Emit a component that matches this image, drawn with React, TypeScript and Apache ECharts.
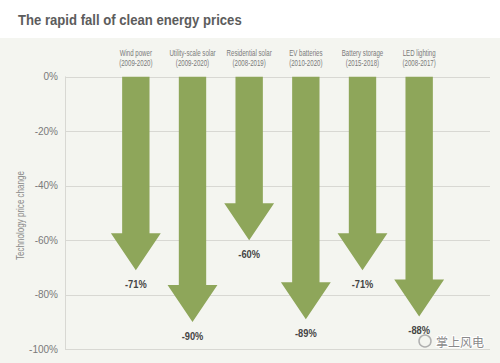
import React, { useEffect, useRef } from "react";
import * as echarts from "echarts";

const titleText = "The rapid fall of clean energy prices";
const technologies = ["Wind power", "Utility-scale solar", "Residential solar", "EV batteries", "Battery storage", "LED lighting"];
const periods = ["(2009-2020)", "(2009-2020)", "(2008-2019)", "(2010-2020)", "(2015-2018)", "(2008-2017)"];
const priceChange = [-71, -90, -60, -89, -71, -88];
const yAxisName = "Technology price change";
const watermark = "掌上风电";

const FONT = "'Liberation Sans', Arial, sans-serif";
const GREEN = "#8ea65a";

export default function App() {
  const ref = useRef<HTMLDivElement>(null);
  useEffect(() => {
    if (!ref.current) return;
    const chart = echarts.init(ref.current, null, { renderer: "svg" });
    const data = priceChange.map((v, i) => [i + 1.25, v, i]);
    chart.setOption({
      animation: false,
      backgroundColor: "#f4f5f0",
      graphic: [
        { type: "rect", x: 0, y: 0, shape: { width: 500, height: 38 }, style: { fill: "#ffffff" }, z: -1 },
        {
          type: "text", x: 18, y: 20, scaleX: 0.875,
          style: { text: titleText, fill: "#5c5c5c", font: `bold 15px ${FONT}`, verticalAlign: "middle" },
        },
        {
          type: "text", x: 20, y: 215.5, rotation: Math.PI / 2, scaleX: 0.73,
          style: { text: yAxisName, fill: "#8a8a8a", font: `11px ${FONT}`, align: "center", verticalAlign: "middle" },
        },
        {
          type: "circle", x: 425, y: 341, shape: { r: 6 },
          style: { fill: "none", stroke: "#b0b0b0", lineWidth: 1.5 }, z: 10,
        },
        {
          type: "text", x: 484, y: 341,
          style: { text: watermark, fill: "#8a8a8a", font: `12px 'Noto Sans CJK SC', sans-serif`, align: "right", verticalAlign: "middle", stroke: "#ffffff", lineWidth: 2 },
          z: 10,
        },
      ],
      grid: { left: 65, right: 10, top: 76.8, bottom: 13.7 },
      xAxis: { type: "value", min: 0, max: 7.5, show: false },
      yAxis: {
        type: "value", min: -100, max: 0, interval: 20,
        axisLine: { show: true, lineStyle: { color: "#d8d8d3" } },
        axisTick: { show: false },
        axisLabel: { formatter: "{value}%", color: "#7a7a7a", fontSize: 10, fontFamily: FONT, margin: 7 },
        splitLine: { lineStyle: { color: "#d8d8d3", width: 1 } },
      },
      series: [
        {
          type: "custom",
          data,
          renderItem: (params: any, api: any) => {
            const x = api.value(0);
            const v = api.value(1);
            const idx = api.value(2);
            const top = api.coord([x, 0]);
            const tip = api.coord([x, v]);
            const sw = api.size([0.483, 0])[0];
            const hw = api.size([0.88, 0])[0];
            const hh = 37;
            const cx = top[0];
            const hy = tip[1] - hh;
            return {
              type: "group",
              children: [
                {
                  type: "polygon",
                  shape: {
                    points: [
                      [cx - sw / 2, top[1]], [cx + sw / 2, top[1]], [cx + sw / 2, hy], [cx + hw / 2, hy],
                      [cx, tip[1]], [cx - hw / 2, hy], [cx - sw / 2, hy],
                    ],
                  },
                  style: { fill: GREEN },
                },
                {
                  type: "text",
                  x: cx, y: tip[1] + 14, scaleX: 0.93,
                  style: { text: `${v}%`, fill: "#444", font: `bold 10px ${FONT}`, align: "center", verticalAlign: "middle" },
                },
                {
                  type: "text",
                  x: cx, y: top[1] - 23.5, scaleX: 0.72,
                  style: { text: technologies[idx], fill: "#7a7a7a", font: `8.5px ${FONT}`, align: "center", verticalAlign: "middle" },
                },
                {
                  type: "text",
                  x: cx, y: top[1] - 13.5, scaleX: 0.72,
                  style: { text: periods[idx], fill: "#7a7a7a", font: `8.5px ${FONT}`, align: "center", verticalAlign: "middle" },
                },
              ],
            };
          },
        },
      ],
    });
    return () => chart.dispose();
  }, []);
  return <div ref={ref} style={{ position: "fixed", left: 0, top: 0, width: 500, height: 363 }} />;
}
